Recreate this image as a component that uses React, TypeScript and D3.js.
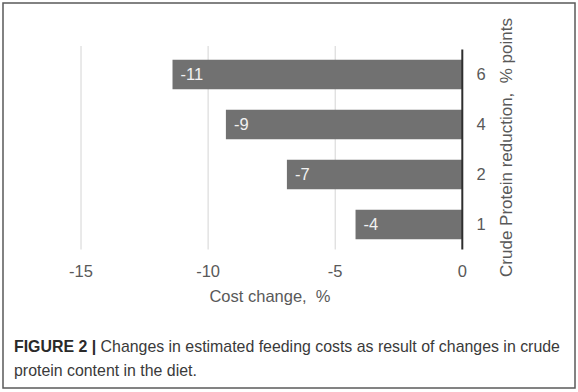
import React from "react";
import * as d3 from "d3";

const categories = ["6", "4", "2", "1"];
const costChange = [-11.4, -9.3, -6.9, -4.2];
const xTicks = [-15, -10, -5, 0];
const xTitle = "Cost change,  %";
const yTitle = "Crude Protein reduction,  % points";
const captionBold = "FIGURE 2 | ";
const captionLine1 = "Changes in estimated feeding costs as result of changes in crude";
const captionLine2 = "protein content in the diet.";

const W = 578;
const H = 392;
const FONT = "'Liberation Sans', Arial, Helvetica, sans-serif";

export default function App() {
  const x = d3.scaleLinear().domain([-15, 0]).range([81, 462.3]);
  const y = d3
    .scaleBand<string>()
    .domain(categories)
    .range([49.5, 249.5])
    .paddingInner(0.41)
    .paddingOuter(0.205);
  const fmt = (v: number) => d3.format(".0f")(v).replace("\u2212", "-");
  const tickColor = "#595959";

  return (
    <svg
      width={W}
      height={H}
      style={{ position: "absolute", left: 0, top: 0, background: "#fff" }}
      fontFamily={FONT}
    >
      <rect x={0} y={0} width={W} height={H} fill="#fff" />
      <rect x={3} y={3} width={572} height={385} fill="none" stroke="#5a5a5a" strokeWidth={1.5} />

      {/* gridlines */}
      {xTicks
        .filter((t) => t !== 0)
        .map((t) => (
          <line
            key={"g" + t}
            x1={x(t)}
            x2={x(t)}
            y1={46}
            y2={249.5}
            stroke="#d4d4d4"
            strokeWidth={1}
          />
        ))}

      {/* bars */}
      {categories.map((c, i) => {
        const v = costChange[i];
        const y0 = y(c) as number;
        return (
          <g key={c}>
            <rect
              x={x(v)}
              y={y0}
              width={x(0) - x(v)}
              height={y.bandwidth()}
              fill="#717171"
            />
            <text
              x={x(v) + 8}
              y={y0 + y.bandwidth() / 2}
              dy="0.36em"
              fill="#f2f2f2"
              fontSize={16.5}
            >
              {fmt(v)}
            </text>
          </g>
        );
      })}

      {/* zero axis */}
      <line x1={x(0)} x2={x(0)} y1={49.5} y2={249.5} stroke="#2e2e2e" strokeWidth={2} />

      {/* x tick labels */}
      {xTicks.map((t) => (
        <text key={"t" + t} x={x(t)} y={277} textAnchor="middle" fill={tickColor} fontSize={16.5}>
          {fmt(t)}
        </text>
      ))}
      <text
        x={270}
        y={302}
        textAnchor="middle"
        fill={tickColor}
        fontSize={16.5}
        style={{ whiteSpace: "pre" }}
      >
        {xTitle}
      </text>

      {/* y tick labels (right side) */}
      {categories.map((c) => (
        <text
          key={"y" + c}
          x={481}
          y={(y(c) as number) + y.bandwidth() / 2}
          dy="0.36em"
          textAnchor="middle"
          fill={tickColor}
          fontSize={16.5}
        >
          {c}
        </text>
      ))}
      <text
        transform={`translate(512,147.5) rotate(-90)`}
        textAnchor="middle"
        fill={tickColor}
        fontSize={17}
        style={{ whiteSpace: "pre" }}
      >
        {yTitle}
      </text>

      {/* caption */}
      <text x={14} y={352} fontSize={15.9} fill="#3a3a3a">
        <tspan fontWeight="bold" fill="#2a2a2a">
          {captionBold}
        </tspan>
        <tspan>{captionLine1}</tspan>
      </text>
      <text x={14} y={376} fontSize={15.9} fill="#3a3a3a">
        {captionLine2}
      </text>
    </svg>
  );
}
